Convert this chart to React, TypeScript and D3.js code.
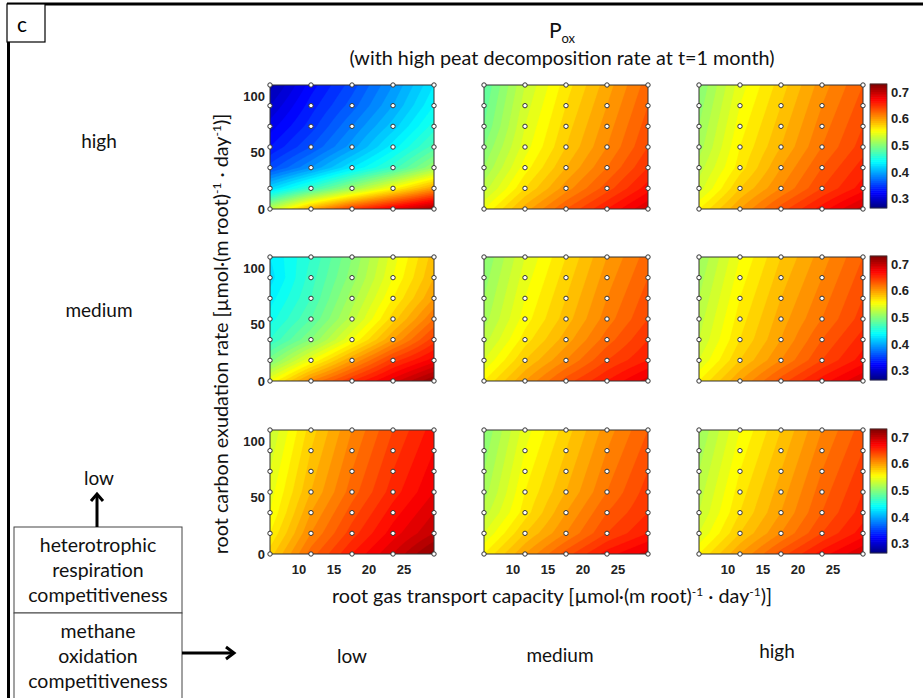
import * as d3 from "d3";
import React, { useEffect, useRef } from "react";

const width = 923;
const height = 698;

// sample points of the model runs
const gasCapacity = [5.86, 11.72, 17.58, 23.44, 29.3];
const exudationRate = [109.8, 91.5, 73.2, 54.9, 36.6, 18.3, 0]; // top row first
const xTicks = [10, 15, 20, 25];
const yTicks = [0, 50, 100];
const cbarTicks = [0.3, 0.4, 0.5, 0.6, 0.7];
const colorDomain = [0.265, 0.73];

const heteroLevels = ["high", "medium", "low"];
const oxidationLevels = ["low", "medium", "high"];

// P_ox at each sample point, rows from exudation 109.8 down to 0
const highLow = [
  [0.285, 0.325, 0.355, 0.39, 0.43],
  [0.3, 0.335, 0.365, 0.4, 0.44],
  [0.315, 0.345, 0.38, 0.415, 0.455],
  [0.33, 0.36, 0.395, 0.435, 0.475],
  [0.355, 0.39, 0.43, 0.465, 0.51],
  [0.42, 0.465, 0.51, 0.555, 0.6],
  [0.525, 0.595, 0.645, 0.68, 0.715],
];
const highMedium = [
  [0.48, 0.53, 0.565, 0.595, 0.625],
  [0.485, 0.535, 0.57, 0.6, 0.63],
  [0.49, 0.54, 0.575, 0.605, 0.635],
  [0.5, 0.545, 0.58, 0.61, 0.64],
  [0.51, 0.555, 0.59, 0.62, 0.65],
  [0.525, 0.57, 0.605, 0.635, 0.665],
  [0.55, 0.595, 0.63, 0.66, 0.69],
];
const highHigh = [
  [0.5, 0.545, 0.575, 0.605, 0.63],
  [0.505, 0.55, 0.58, 0.61, 0.635],
  [0.51, 0.555, 0.585, 0.615, 0.64],
  [0.515, 0.56, 0.59, 0.62, 0.645],
  [0.525, 0.565, 0.6, 0.63, 0.655],
  [0.535, 0.58, 0.61, 0.64, 0.665],
  [0.56, 0.6, 0.635, 0.665, 0.695],
];
const mediumLow = [
  [0.43, 0.46, 0.5, 0.545, 0.585],
  [0.425, 0.465, 0.505, 0.55, 0.59],
  [0.435, 0.47, 0.515, 0.56, 0.6],
  [0.445, 0.48, 0.525, 0.575, 0.62],
  [0.46, 0.5, 0.55, 0.6, 0.645],
  [0.495, 0.55, 0.6, 0.645, 0.675],
  [0.55, 0.61, 0.65, 0.685, 0.72],
];
const mediumMedium = [
  [0.5, 0.54, 0.57, 0.6, 0.625],
  [0.505, 0.545, 0.575, 0.605, 0.63],
  [0.51, 0.55, 0.58, 0.61, 0.635],
  [0.515, 0.555, 0.585, 0.615, 0.64],
  [0.525, 0.565, 0.595, 0.625, 0.65],
  [0.54, 0.58, 0.61, 0.64, 0.66],
  [0.56, 0.6, 0.635, 0.66, 0.685],
];
const mediumHigh = [
  [0.51, 0.55, 0.58, 0.605, 0.63],
  [0.515, 0.555, 0.585, 0.61, 0.635],
  [0.52, 0.56, 0.59, 0.615, 0.64],
  [0.525, 0.565, 0.595, 0.62, 0.645],
  [0.53, 0.57, 0.6, 0.63, 0.655],
  [0.54, 0.58, 0.61, 0.64, 0.665],
  [0.56, 0.6, 0.635, 0.665, 0.69],
];
const lowLow = [
  [0.53, 0.575, 0.61, 0.64, 0.665],
  [0.535, 0.58, 0.615, 0.645, 0.67],
  [0.54, 0.585, 0.62, 0.65, 0.675],
  [0.545, 0.59, 0.625, 0.655, 0.68],
  [0.55, 0.6, 0.635, 0.665, 0.69],
  [0.56, 0.61, 0.645, 0.675, 0.7],
  [0.575, 0.625, 0.66, 0.69, 0.725],
];
const lowMedium = [
  [0.5, 0.545, 0.575, 0.605, 0.63],
  [0.505, 0.55, 0.58, 0.61, 0.635],
  [0.51, 0.555, 0.585, 0.615, 0.64],
  [0.515, 0.56, 0.59, 0.62, 0.645],
  [0.525, 0.565, 0.6, 0.63, 0.65],
  [0.54, 0.58, 0.61, 0.64, 0.66],
  [0.56, 0.6, 0.635, 0.665, 0.685],
];
const lowHigh = [
  [0.51, 0.55, 0.58, 0.61, 0.635],
  [0.515, 0.555, 0.585, 0.615, 0.64],
  [0.52, 0.56, 0.59, 0.62, 0.645],
  [0.525, 0.565, 0.595, 0.625, 0.65],
  [0.53, 0.57, 0.6, 0.63, 0.655],
  [0.54, 0.58, 0.61, 0.64, 0.665],
  [0.56, 0.6, 0.635, 0.665, 0.69],
];

const panels = [
  [highLow, highMedium, highHigh],
  [mediumLow, mediumMedium, mediumHigh],
  [lowLow, lowMedium, lowHigh],
];

const panelLeft = [270, 484, 699];
const panelTop = [85, 257, 430];
const pw = 164;
const ph = 124;
const cbarLeft = 870;
const cbarWidth = 17;

const textFont = "Lato, 'Open Sans', sans-serif";
const tickFont = "'Liberation Sans', Arial, sans-serif";

// MATLAB jet colormap
function jet(t: number) {
  const c = (v: number) => Math.round(255 * Math.max(0, Math.min(1, v)));
  const r = c(1.5 - Math.abs(4 * t - 3));
  const g = c(1.5 - Math.abs(4 * t - 2));
  const b = c(1.5 - Math.abs(4 * t - 1));
  return `rgb(${r},${g},${b})`;
}
const colorT = d3.scaleLinear().domain(colorDomain).range([0, 1]).clamp(true);
const color = (v: number) => jet(colorT(v));

// bilinear lookup in the sampled grid
function sample(grid: number[][], gx: number, ey: number) {
  const xs = d3.scaleLinear().domain(d3.extent(gasCapacity) as number[]).range([0, gasCapacity.length - 1]).clamp(true);
  const ys = d3.scaleLinear().domain([exudationRate[0], exudationRate[exudationRate.length - 1]]).range([0, exudationRate.length - 1]).clamp(true);
  const fx = xs(gx), fy = ys(ey);
  const i = Math.min(Math.floor(fx), gasCapacity.length - 2);
  const j = Math.min(Math.floor(fy), exudationRate.length - 2);
  const u = fx - i, v = fy - j;
  return (
    grid[j][i] * (1 - u) * (1 - v) +
    grid[j][i + 1] * u * (1 - v) +
    grid[j + 1][i] * (1 - u) * v +
    grid[j + 1][i + 1] * u * v
  );
}

function Chart() {
  const ref = useRef<SVGGElement>(null);

  useEffect(() => {
    const g = d3.select(ref.current);
    g.selectAll("*").remove();
    const defs = g.append("defs");
    const thresholds = d3.range(0.2, 0.76, 0.01);
    const nx = pw, ny = ph;

    panels.forEach((row, r) => {
      row.forEach((grid, c) => {
        const left = panelLeft[c];
        const top = panelTop[r];
        const xScale = d3.scaleLinear().domain([gasCapacity[0], gasCapacity[4]]).range([left, left + pw]);
        const yScale = d3.scaleLinear().domain([0, exudationRate[0]]).range([top + ph, top]);

        const values: number[] = new Array(nx * ny);
        for (let j = 0; j < ny; j++) {
          for (let i = 0; i < nx; i++) {
            values[j * nx + i] = sample(grid, xScale.invert(left + i + 0.5), yScale.invert(top + j + 0.5));
          }
        }
        const contours = d3.contours().size([nx, ny]).thresholds(thresholds)(values);
        const proj = d3.geoTransform({
          point(x: number, y: number) {
            this.stream.point(left + (x * pw) / nx, top + (y * ph) / ny);
          },
        });
        const path = d3.geoPath(proj);

        const clipId = `clip-${r}-${c}`;
        defs.append("clipPath").attr("id", clipId)
          .append("rect").attr("x", left).attr("y", top).attr("width", pw).attr("height", ph);

        const pg = g.append("g").attr("clip-path", `url(#${clipId})`);
        pg.selectAll("path")
          .data(contours)
          .enter()
          .append("path")
          .attr("d", (d: any) => path(d))
          .attr("fill", (d: any) => color(d.value + 0.005))
          .attr("stroke", (d: any) => color(d.value + 0.005))
          .attr("stroke-width", 0.3);

        g.append("rect")
          .attr("x", left).attr("y", top).attr("width", pw).attr("height", ph)
          .attr("fill", "none").attr("stroke", "#333").attr("stroke-width", 1);

        // sample points
        const pts = d3.cross(gasCapacity, exudationRate);
        g.append("g").selectAll("circle")
          .data(pts)
          .enter()
          .append("circle")
          .attr("cx", (d) => xScale(d[0]))
          .attr("cy", (d) => yScale(d[1]))
          .attr("r", 2.2)
          .attr("fill", "white")
          .attr("stroke", "#333")
          .attr("stroke-width", 1);

        if (c === 0) {
          g.append("g").selectAll("text")
            .data(yTicks)
            .enter()
            .append("text")
            .attr("x", left - 5)
            .attr("y", (d) => yScale(d) + 4.5)
            .attr("text-anchor", "end")
            .attr("font-family", tickFont)
            .attr("font-weight", "bold")
            .attr("font-size", 13)
            .attr("fill", "#222")
            .text((d) => d);
        }
        if (r === 2) {
          g.append("g").selectAll("text")
            .data(xTicks)
            .enter()
            .append("text")
            .attr("x", (d) => xScale(d))
            .attr("y", top + ph + 20)
            .attr("text-anchor", "middle")
            .attr("font-family", tickFont)
            .attr("font-weight", "bold")
            .attr("font-size", 13)
            .attr("fill", "#222")
            .text((d) => d);
        }
      });

      // colorbar
      const top = panelTop[r] - 1;
      const cScale = d3.scaleLinear().domain(colorDomain).range([top + ph, top]);
      const steps = d3.range(64).map((k) => colorDomain[0] + ((colorDomain[1] - colorDomain[0]) * k) / 64);
      const stepH = ph / 64;
      g.append("g").selectAll("rect")
        .data(steps)
        .enter()
        .append("rect")
        .attr("x", cbarLeft)
        .attr("y", (d) => cScale(d) - stepH - 0.3)
        .attr("width", cbarWidth)
        .attr("height", stepH + 0.6)
        .attr("fill", (d) => color(d + (colorDomain[1] - colorDomain[0]) / 128));
      g.append("rect")
        .attr("x", cbarLeft).attr("y", top).attr("width", cbarWidth).attr("height", ph)
        .attr("fill", "none").attr("stroke", "#333").attr("stroke-width", 0.8);
      g.append("g").selectAll("text")
        .data(cbarTicks)
        .enter()
        .append("text")
        .attr("x", cbarLeft + cbarWidth + 4)
        .attr("y", (d) => cScale(d) + 4.5)
        .attr("font-family", tickFont)
        .attr("font-weight", "bold")
        .attr("font-size", 13)
        .attr("fill", "#222")
        .text((d) => d3.format(".1f")(d));
    });
  }, []);

  const labelY = [148, 317, 485];
  const bottomLabels = [
    { x: 352, y: 663 },
    { x: 560, y: 662 },
    { x: 777, y: 658 },
  ];

  return (
    <svg width={width} height={height} style={{ display: "block", position: "absolute", left: 0, top: 0 }}>
      <rect x={0} y={0} width={width} height={height} fill="white" />
      {/* outer frame */}
      <path d={`M8.5,${height + 5} V4 H${width + 5}`} fill="none" stroke="black" strokeWidth={3} />
      <rect x={7} y={4} width={38} height={38} fill="white" stroke="black" strokeWidth={1.2} />
      <text x={17} y={32} fontFamily={textFont} fontSize={21}>c</text>

      <g ref={ref} />

      <g fontFamily={textFont} fill="#111" textAnchor="middle">
        <text x={562} y={38} fontSize={21}>
          P<tspan fontSize={13} dy={5}>ox</tspan>
        </text>
        <text x={562} y={65} fontSize={19.8}>(with high peat decomposition rate at t=1 month)</text>

        <text transform="translate(228,334) rotate(-90)" fontSize={19.8}>
          root carbon exudation rate [µmol·(m root)<tspan fontSize={12} dy={-7}>-1</tspan>
          <tspan dy={7}> · day</tspan>
          <tspan fontSize={12} dy={-7}>-1</tspan>
          <tspan dy={7}>)]</tspan>
        </text>
        <text x={552} y={603} fontSize={19.8}>
          root gas transport capacity [µmol·(m root)<tspan fontSize={12} dy={-7}>-1</tspan>
          <tspan dy={7}> · day</tspan>
          <tspan fontSize={12} dy={-7}>-1</tspan>
          <tspan dy={7}>)]</tspan>
        </text>

        {heteroLevels.map((d, i) => (
          <text key={d} x={99} y={labelY[i]} fontSize={19}>{d}</text>
        ))}
        {oxidationLevels.map((d, i) => (
          <text key={d} x={bottomLabels[i].x} y={bottomLabels[i].y} fontSize={19}>{d}</text>
        ))}

        <rect x={14} y={527} width={168} height={86} fill="white" stroke="#444" strokeWidth={1} />
        <rect x={14} y={613} width={168} height={100} fill="white" stroke="#444" strokeWidth={1} />
        <text x={98} y={552} fontSize={19.5}>heterotrophic</text>
        <text x={98} y={577} fontSize={19.5}>respiration</text>
        <text x={98} y={602} fontSize={19.5}>competitiveness</text>
        <text x={98} y={638} fontSize={19.5}>methane</text>
        <text x={98} y={663} fontSize={19.5}>oxidation</text>
        <text x={98} y={688} fontSize={19.5}>competitiveness</text>
      </g>

      {/* arrows */}
      <g fill="none" stroke="black" strokeWidth={3}>
        <path d="M97,527 V494" />
        <path d="M91,501 L97,494 L103,501" />
        <path d="M182,653 H234" />
        <path d="M226,647 L234,653 L226,659" />
      </g>
    </svg>
  );
}

export default function App() {
  return <Chart />;
}
